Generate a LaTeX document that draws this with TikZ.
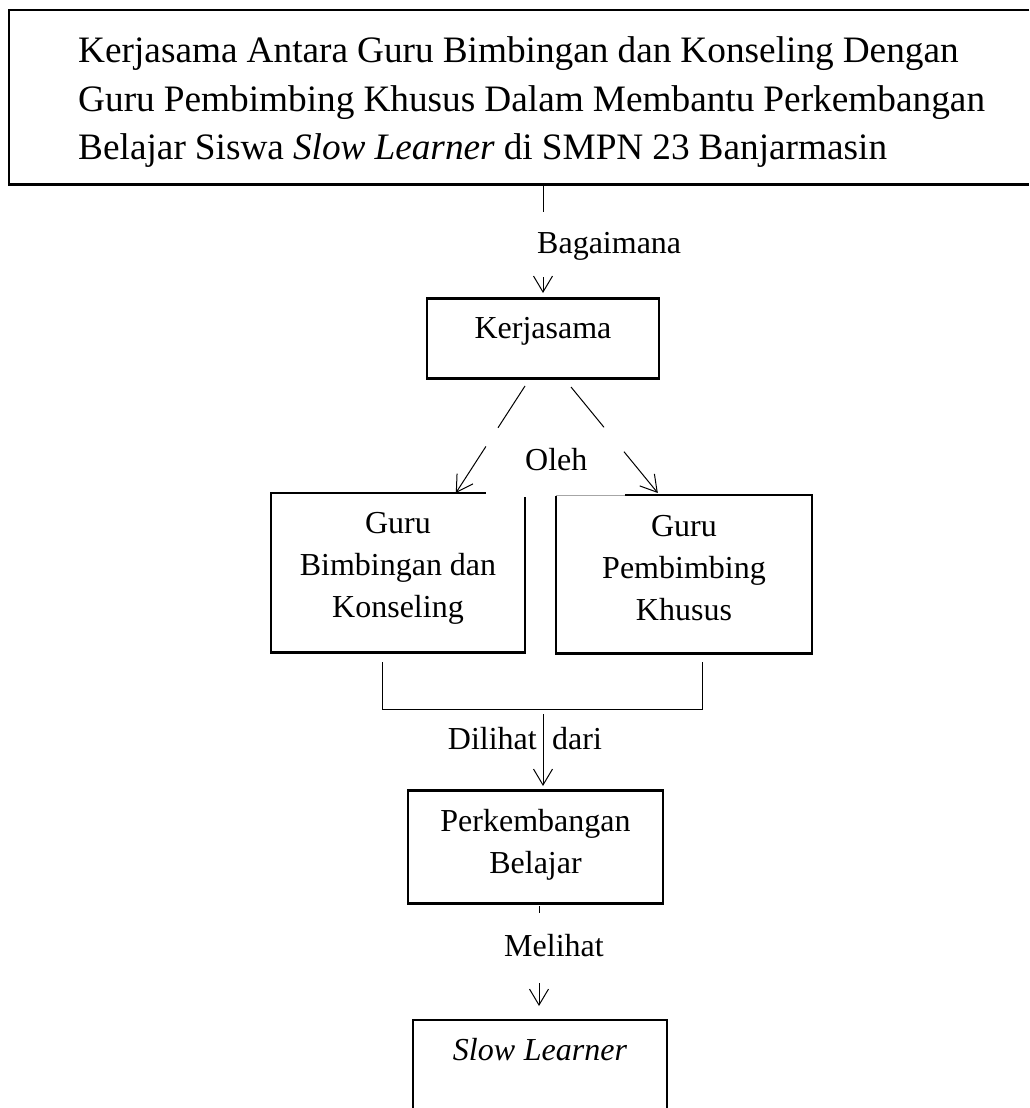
\documentclass[tikz,border=0pt]{standalone}
\usepackage{fontspec}
\setmainfont{Liberation Serif}
\usetikzlibrary{arrows.meta,calc}
\newcommand\smallfs{\fontsize{32}{42}\selectfont}
\newcommand\titlefs{\fontsize{37.3}{48.5}\selectfont}
\tikzset{
  boxline/.style={line width=2.5pt, line join=miter},
  conn/.style={line width=1pt},
  arr/.style={conn, -{Straight Barb[length=16pt,width=19pt,line width=1pt]}},
  boxnode/.style={anchor=north, inner sep=0pt, align=center, font=\smallfs},
  lbl/.style={inner sep=0pt, font=\smallfs},
  tightsp/.style={execute at begin node={\spaceskip=#1 plus 2pt minus 1pt\relax}}
}
\begin{document}
\begin{tikzpicture}[x=1pt,y=-1pt]
\useasboundingbox (0,0) rectangle (1029,1108);
% title box
\node[anchor=north west, inner sep=0pt, minimum width=1020pt, minimum height=174pt] (title) at (9,10) {};
\draw[boxline] (title.north east) -- (title.north west) -- (title.south west) -- (title.south east);
\node[anchor=base west, inner sep=0pt, text width=960pt, align=left, font=\titlefs, tightsp=9pt] (titletext) at (78,63)
  {Kerjasama Antara Guru Bimbingan dan Konseling Dengan\\Guru Pembimbing Khusus Dalam Membantu Perkembangan\\Belajar Siswa \textit{Slow Learner} di SMPN 23 Banjarmasin};
% Kerjasama
\node[boxnode, text width=232pt, text height=40pt, text depth=40pt, draw, boxline] (kerja) at (543,297) {Kerjasama};
% Guru BK
\node[boxnode, text width=254pt, text height=40pt, text depth=119pt, tightsp=7pt] (gb) at (398,493) {Guru\\Bimbingan dan\\Konseling};
\draw[boxline] ($(gb.north west)+(215,0)$) -- (gb.north west) -- (gb.south west) -- (gb.south east) -- ($(gb.north east)+(0,4)$);
% Guru PK
\node[boxnode, text width=256pt, text height=41pt, text depth=117pt] (gp) at (684,495) {Guru\\Pembimbing\\Khusus};
\draw[conn, gray!70] (gp.north west) -- ($(gp.north west)+(69,0)$);
\draw[boxline] ($(gp.north west)+(69,0)$) -- (gp.north east) -- (gp.south east) -- (gp.south west) -- ($(gp.north west)+(0,1)$);
% Perkembangan Belajar
\node[boxnode, text width=255pt, text height=41pt, text depth=72pt, draw, boxline] (pb) at (535.5,789) {Perkembangan\\Belajar};
% Slow Learner
\node[boxnode, text width=254pt, text height=40pt, text depth=48pt, tightsp=7.5pt] (sl) at (540,1020) {\textit{Slow Learner}};
\draw[boxline] (sl.south west) -- (sl.north west) -- (sl.north east) -- (sl.south east);

% title -> Kerjasama
\coordinate (t1) at (title.south -| kerja.north);
\coordinate (t2) at (543,212);
\coordinate (t3) at (543,277);
\draw[conn] (t1) -- (t2);
\draw[arr, shorten >=4pt] (t3) -- (kerja.north);
\node[lbl, anchor=base west] (lbag) at (537,253) {Bagaimana};

% Kerjasama -> Guru BK / Guru PK
\coordinate (ka) at (525,386);
\coordinate (ga) at ($(gb.north west)+(185,0)$);
\draw[conn] (ka) -- ($(ka)!0.39!(ga)$);
\draw[arr] ($(ka)!0.565!(ga)$) -- (ga);
\coordinate (kb) at (571,387);
\coordinate (gq) at ($(gp.north west)+(102,-2)$);
\draw[conn] (kb) -- ($(kb)!0.38!(gq)$);
\draw[arr] ($(kb)!0.61!(gq)$) -- (gq);
\node[lbl, anchor=base west] (loleh) at (525,470) {Oleh};

% bracket -> Perkembangan
\coordinate (b1) at ($(gb.south west)+(112,10)$);
\coordinate (b2) at ($(gp.south west)+(147,9)$);
\draw[conn] (b1) -- (b1 |- 0,709) -- (b2 |- 0,709) -- (b2);
\coordinate (bm) at (543,714);
\draw[arr, shorten >=3pt] (bm) -- (bm |- pb.north);
\node[lbl, anchor=base east] (ldil) at (537,749) {Dilihat};
\node[lbl, anchor=base west] (ldari) at (552,749) {dari};

% Perkembangan -> Slow Learner
\coordinate (m1) at (539,906);
\coordinate (m2) at (539,913);
\coordinate (m3) at (539,983);
\draw[conn] (m1) -- (m2);
\draw[arr, shorten >=14pt] (m3) -- (m3 |- sl.north);
\node[lbl, anchor=base west] (lmel) at (504,956) {Melihat};
\end{tikzpicture}
\end{document}
